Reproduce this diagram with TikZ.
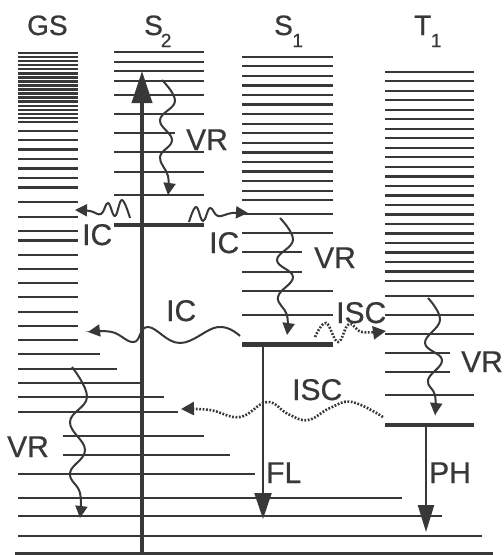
\documentclass[tikz,border=0pt]{standalone}
\usepackage{fontspec}
\setmainfont{Liberation Sans}
\newfontfamily\labfont{Liberation Sans}[FakeBold=0.6]
\usetikzlibrary{arrows.meta}
\definecolor{ink}{rgb}{0.22,0.22,0.22}
\tikzset{
  lvl/.style={draw=ink, line width=2.3pt},
  thicklvl/.style={draw=ink, line width=4.5pt},
  wave/.style={draw=ink, line width=2pt, -{Triangle[length=12pt,width=12pt]}},
  dotwave/.style={draw=ink, line width=2.6pt, dash pattern=on 1.8pt off 1.6pt, -{Triangle[length=13pt,width=13pt]}},
  bigarrow/.style={draw=ink, line width=4pt, -{Triangle[length=32pt,width=20pt]}},
  emarrow/.style={draw=ink, line width=2.2pt, -{Triangle[length=26pt,width=17pt]}},
  title/.style={text=ink, inner sep=0pt, anchor=base west, font=\labfont\fontsize{28}{28}\selectfont},
  lab/.style={text=ink, inner sep=0pt, anchor=base west, font=\labfont\fontsize{30}{30}\selectfont},
}
\newcommand\subsc[1]{\raisebox{-12pt}{\fontsize{19}{19}\selectfont #1}}
\begin{document}
\begin{tikzpicture}[x=1pt,y=-1pt]
\useasboundingbox (0,0) rectangle (504,555);
\fill[white] (0,0) rectangle (504,555);
% ---------- GS levels ----------
\foreach \i in {0,...,17} \draw[lvl, line width=2.5pt] (18,{53+\i*4.06}) -- (78,{53+\i*4.06});
\foreach \yy in {130.7,140,149.5,159,168.5,178,187.5,202.3,216.7,231,240.5,255,269.3,283.3,297.3,311.7,326,340.3}
  \draw[lvl] (18,\yy) -- (78,\yy);
\draw[lvl] (18,354) -- (100,354);
\draw[lvl] (18,369) -- (117,369);
\draw[lvl] (18,383.3) -- (140,383.3);
\draw[lvl] (18,397.3) -- (164,397.3);
\draw[lvl] (18,411.7) -- (178,411.7);
\draw[lvl] (63,436) -- (204,436);
\draw[lvl] (63,455) -- (230,455);
\draw[lvl] (18,474) -- (255,474);
\draw[lvl, line width=2pt] (18,497.7) -- (402,497.7);
\draw[lvl, line width=2pt] (18,516) -- (442,516);
\draw[lvl, line width=2pt] (18,535.7) -- (482,535.7);
\draw[lvl, line width=3pt] (15,553) -- (493,553);
% ---------- S2 levels ----------
\foreach \yy in {52.3,62,71.3,80.7,95,114,152.3,171.7,195}
  \draw[lvl] (114,\yy) -- (204,\yy);
\draw[lvl] (114,133.3) -- (175,133.3);
\draw[thicklvl] (114,225) -- (204,225);
% ---------- S1 levels ----------
\foreach \i in {0,...,15} \draw[lvl] (242,{56.7+\i*9.575}) -- (333,{56.7+\i*9.575});
\draw[lvl] (242,214.3) -- (333,214.3);
\draw[lvl] (242,233.3) -- (333,233.3);
\draw[lvl] (242,252.3) -- (302,252.3);
\draw[lvl] (242,271.7) -- (302,271.7);
\draw[lvl] (242,290.7) -- (333,290.7);
\draw[lvl] (242,315) -- (333,315);
\draw[thicklvl] (242,344.3) -- (333,344.3);
% ---------- T1 levels ----------
\foreach \i in {0,...,22} \draw[lvl] (385,{71.7+\i*9.514}) -- (474,{71.7+\i*9.514});
\draw[lvl] (385,295.7) -- (474,295.7);
\draw[lvl] (385,314.7) -- (474,314.7);
\draw[lvl] (385,334) -- (474,334);
\draw[lvl] (385,352.7) -- (450,352.7);
\draw[lvl] (385,371.7) -- (450,371.7);
\draw[lvl] (385,395) -- (474,395);
\draw[thicklvl] (385,425) -- (474,425);
% ---------- key points ----------
\coordinate (absbot) at (142,553);
\coordinate (abstop) at (142,71);
\coordinate (s1low) at (263,344.3);
\coordinate (flend) at (263,519);
\coordinate (t1low) at (426,425);
\coordinate (phend) at (426,532);
% ---------- absorption and emission ----------
\draw[bigarrow] (absbot) -- (abstop);
\draw[emarrow] (s1low) -- (flend);
\draw[emarrow, -{Triangle[length=27pt,width=16pt]}] (t1low) -- (phend);
% ---------- VR ----------
\draw[wave] plot[smooth, tension=0.7] coordinates {(162,80) (175,101) (160,120) (172,140) (160,157) (168,176) (168,195)};
\draw[wave] plot[smooth, tension=0.7] coordinates {(280,218) (293,240) (277,260) (293,277) (278,297) (287,315) (287,335)};
\draw[wave] plot[smooth, tension=0.7] coordinates {(428,298) (440,320) (425,343) (442,360) (428,380) (435,395) (435,415)};
\draw[wave] plot[smooth, tension=0.7] coordinates {(72,367) (87,397) (70,422) (85,450) (70,473) (80,493) (80,518)};
% ---------- IC ----------
\draw[wave] plot[smooth, tension=0.7] coordinates {(130,218) (122,200) (115,216) (108,203) (101,214) (90,211) (75,210)};
\draw[wave] plot[smooth, tension=0.7] coordinates {(189,222) (196,207) (203,221) (210,208) (218,216) (232,213) (248,213)};
\draw[wave] plot[smooth, tension=0.7] coordinates {(240,336) (218,327) (180,343) (148,327) (134,342) (112,332) (88,332)};
% ---------- ISC ----------
\draw[dotwave] plot[smooth, tension=0.7] coordinates {(315,337) (326,323) (338,342) (349,324) (362,332) (386,331)};
\draw[dotwave] plot[smooth, tension=0.7] coordinates {(383,417) (352,402) (330,408) (308,420) (288,414) (267,402) (240,417) (210,410) (181,409)};
% ---------- titles ----------
\node[title] (gs) at (27,35) {GS};
\node[title] (s2) at (144,35) {S\kern-2pt\subsc{2}};
\node[title] (s1) at (274,35) {S\kern-0.5pt\subsc{1}};
\node[title] (t1) at (414,35) {T\kern-0.5pt\subsc{1}};
% ---------- labels ----------
\node[lab] (vr1) at (186,150) {VR};
\node[lab] (vr2) at (314,268) {VR};
\node[lab] (vr3) at (461,372) {VR};
\node[lab] (vr4) at (7,457) {VR};
\node[lab] (ic1) at (82,245) {IC};
\node[lab] (ic2) at (209,253) {IC};
\node[lab] (ic3) at (166,321) {IC};
\node[lab] (isc1) at (336,323) {ISC};
\node[lab] (isc2) at (292,400) {ISC};
\node[lab] (fl) at (266,483) {FL};
\node[lab] (ph) at (429,483) {PH};
\end{tikzpicture}
\end{document}
